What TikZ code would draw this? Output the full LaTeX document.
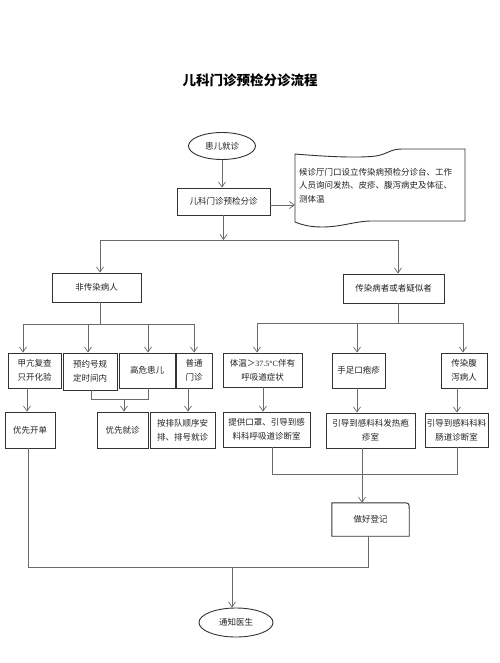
\documentclass[tikz,border=0pt]{standalone}
\usepackage{fontspec}
\setmainfont{Noto Sans CJK SC}
\newfontfamily\serifnum{Liberation Serif}
\usetikzlibrary{shapes.geometric,arrows.meta,calc}
\definecolor{boxc}{HTML}{333333}
\definecolor{linec}{HTML}{6A6A6A}
\definecolor{txt}{HTML}{222222}
\begin{document}
\begin{tikzpicture}[x=1pt,y=-1pt,
  txtfont/.style={font=\fontsize{8.5}{14}\selectfont,text=txt},
  box/.style={draw=boxc,line width=0.9pt,inner sep=1pt,align=center,txtfont},
  oval/.style={ellipse,draw=boxc,line width=0.9pt,inner sep=0pt,txtfont},
  conn/.style={draw=linec,line width=0.7pt},
  arr/.style={conn,-{Straight Barb[length=5pt,width=7pt]}}
]
\useasboundingbox[fill=white] (0,0) rectangle (499,663);

% title
\node[font=\bfseries\fontsize{13.5}{16}\selectfont,text=black] (title) at (250,80) {儿科门诊预检分诊流程};

% top part
\node[oval,minimum width=67pt,minimum height=27pt] (start) at (222,146) {患儿就诊};
\node[box,minimum width=93pt,minimum height=27pt] (pre) at (223.5,201.5) {儿科门诊预检分诊};

% document shape
\draw[draw=boxc,line width=0.9pt] (295,154) .. controls (330,157) and (360,158) .. (376,156)
  .. controls (388,154) and (390,149) .. (402,149) -- (465,149) -- (465,221)
  -- (372,221) .. controls (355,221) and (342,227) .. (322,227)
  .. controls (308,227) and (300,224) .. (295,222) -- cycle;
\coordinate (docw) at (295,205);
\node[anchor=north west,inner sep=0pt,align=left,font=\fontsize{8.5}{13.5}\selectfont,text=txt] (doctext) at (299,168)
  {候诊厅门口设立传染病预检分诊台、工作\\人员询问发热、皮疹、腹泻病史及体征、\\测体温};

% level 2
\node[box,minimum width=89pt,minimum height=29pt] (A) at (96.5,287.5) {非传染病人};
\node[box,minimum width=101pt,minimum height=29pt] (B) at (393.5,288.5) {传染病者或者疑似者};

% level 3 left
\node[box,minimum width=53pt,minimum height=35pt] (A1) at (34.5,370.5) {甲亢复查\\只开化验};
\node[box,minimum width=54pt,minimum height=37pt] (A2) at (90,371.5) {预约号规\\定时间内};
\node[box,minimum width=56pt,minimum height=35pt] (A3) at (147,370.5) {高危患儿};
\node[box,minimum width=36pt,minimum height=35pt] (A4) at (194,370.5) {普通\\门诊};

% level 4 left
\node[box,minimum width=50pt,minimum height=36pt] (C1) at (30,430) {优先开单};
\node[box,minimum width=51pt,minimum height=36pt] (C2) at (122.5,430) {优先就诊};
\node[box,minimum width=65pt,minimum height=36pt] (C3) at (182.5,430) {按排队顺序安\\排、排号就诊};

% level 3 right
\node[box,minimum width=79pt,minimum height=34pt] (B1) at (262.5,370) {体温＞{\serifnum\fontsize{8}{14}\selectfont 37.5°C}伴有\\呼吸道症状};
\node[box,minimum width=53pt,minimum height=35pt] (B2) at (358.5,370.5) {手足口疱疹};
\node[box,minimum width=46pt,minimum height=35pt] (B3) at (464,370.5) {传染腹\\泻病人};

% level 4 right
\node[box,minimum width=87pt,minimum height=35pt] (D1) at (266.5,429.5) {提供口罩、引导到感\\料科呼吸道诊断室};
\node[box,minimum width=89pt,minimum height=35pt] (D2) at (370.5,430.5) {引导到感料科发热疱\\疹室};
\node[box,minimum width=63pt,minimum height=34pt] (D3) at (456.5,430) {引导到感料科料\\肠道诊断室};

% register box (rounded top-right corner)
\node[txtfont,minimum width=77pt,minimum height=33pt,inner sep=0pt] (E) at (370.5,519.5) {做好登记};
\draw[draw=boxc,line width=0.9pt] (E.south west) -- (E.north west) -- ($(E.north east)+(-7pt,0pt)$)
  .. controls (E.north east) .. ($(E.north east)+(0pt,-7pt)$) -- (E.south east) -- cycle;

% end
\node[oval,minimum width=74pt,minimum height=29pt] (F) at (236,622.5) {通知医生};

% ---------- connectors ----------
\draw[arr] (start) -- (start.south |- pre.north);
\draw[arr] (pre.east |- docw) -- (docw);

\coordinate (j1) at (223.5,240);
\coordinate (j1L) at (100,240);
\coordinate (j1R) at (398,240);
\draw[arr] (pre.south) -- (j1);
\draw[conn] (j1L) -- (j1R);
\draw[arr] (j1L) -- (j1L |- A.north);
\draw[arr] (j1R) -- (j1R |- B.north);

% left branch
\coordinate (j2) at (100,324);
\coordinate (j2a) at (23,324);
\coordinate (j2b) at (88,324);
\coordinate (j2c) at (148,324);
\coordinate (j2d) at (194,324);
\draw[conn] (j2 |- A.south) -- (j2);
\draw[conn] (j2a) -- (j2d);
\draw[arr] (j2a) -- (j2a |- A1.north);
\draw[arr] (j2b) -- (j2b |- A2.north);
\draw[arr] (j2c) -- (j2c |- A3.north);
\draw[arr] (j2d) -- (j2d |- A4.north);

\coordinate (k1) at (27,400);
\draw[arr] (k1 |- A1.south) -- (k1 |- C1.north);
\coordinate (j3a) at (91,399);
\coordinate (j3b) at (148,399);
\coordinate (j3c) at (124,399);
\draw[conn] (j3a |- A2.south) -- (j3a) -- (j3b) -- (j3b |- A3.south);
\draw[arr] (j3c) -- (j3c |- C2.north);
\coordinate (k4) at (188,400);
\draw[arr] (k4 |- A4.south) -- (k4 |- C3.north);

% right branch
\coordinate (j4) at (398,323);
\coordinate (j4a) at (257,323);
\coordinate (j4b) at (357,323);
\coordinate (j4c) at (463,323);
\draw[conn] (j4 |- B.south) -- (j4);
\draw[conn] (j4a) -- (j4c);
\draw[arr] (j4a) -- (j4a |- B1.north);
\draw[arr] (j4b) -- (j4b |- B2.north);
\draw[arr] (j4c) -- (j4c |- B3.north);

\coordinate (m1) at (263,400);
\coordinate (m2) at (357,400);
\coordinate (m3) at (457,400);
\draw[arr] (m1 |- B1.south) -- (m1 |- D1.north);
\draw[arr] (m2 |- B2.south) -- (m2 |- D2.north);
\draw[arr] (m3 |- B3.south) -- (m3 |- D3.north);

\coordinate (n1) at (272,474);
\coordinate (n3) at (457,474);
\coordinate (n2) at (362,474);
\draw[conn] (n1 |- D1.south) -- (n1) -- (n3) -- (n3 |- D3.south);
\draw[arr] (n2 |- D2.south) -- (n2 |- E.north);

% bottom
\coordinate (p1) at (28,567);
\coordinate (p2) at (368,567);
\coordinate (p3) at (232,567);
\draw[conn] (p1 |- C1.south) -- (p1) -- (p2) -- (p2 |- E.south);
\draw[arr] (p3) -- (p3 |- F.north);
\end{tikzpicture}
\end{document}
